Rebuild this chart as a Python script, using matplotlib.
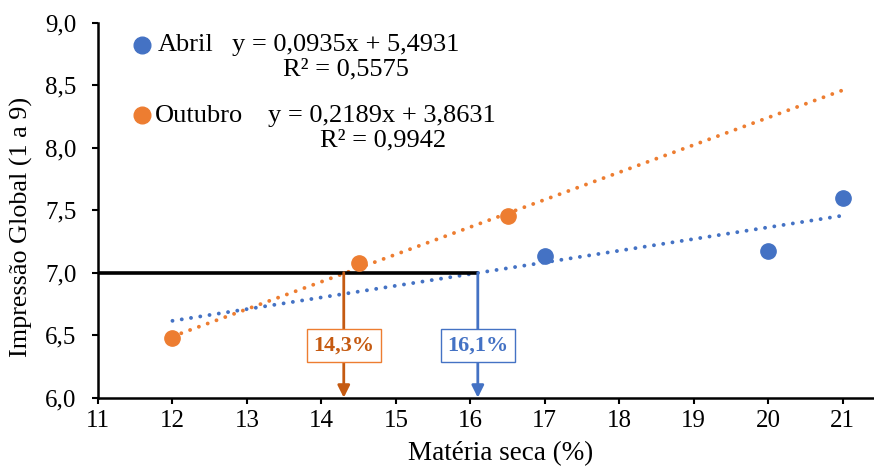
import matplotlib.pyplot as plt
import numpy as np

plt.rcParams['font.family'] = ['Liberation Serif', 'DejaVu Serif']

# data
abril_x = [17, 20, 21]
abril_y = [7.13, 7.17, 7.60]
outubro_x = [12, 14.5, 16.5]
outubro_y = [6.48, 7.08, 7.45]

# trendlines as printed on the chart
abril_fit = (0.0935, 5.4931)
outubro_fit = (0.2189, 3.8631)
trend_range = (12, 21)

target_y = 7.0
cut_abril = 16.1
cut_outubro = 14.3

blue = '#4472C4'
orange = '#ED7D31'
dark_orange = '#C55A11'

fig = plt.figure(figsize=(8.74, 4.69), dpi=100)
ax = fig.add_axes([98 / 874, 1 - 397.7 / 469, 776 / 874, 375 / 469])

xt = np.array(trend_range)
dots = dict(lw=2.8, linestyle=(0, (0.01, 2.4)), dash_capstyle='round')
ax.plot(xt, abril_fit[0] * xt + abril_fit[1], color=blue, **dots, zorder=2)
ax.plot(xt, outubro_fit[0] * xt + outubro_fit[1], color=orange, **dots, zorder=2)

ax.plot(abril_x, abril_y, 'o', color=blue, ms=11, zorder=4)
ax.plot(outubro_x, outubro_y, 'o', color=orange, ms=11, zorder=4)

# threshold line and arrows
ax.plot([11, cut_abril], [target_y, target_y], color='black', lw=2.6, zorder=3,
        solid_capstyle='butt')
for xc, col in [(cut_outubro, dark_orange), (cut_abril, blue)]:
    ax.annotate('', xy=(xc, 6.0), xytext=(xc, target_y),
                arrowprops=dict(arrowstyle='-|>', color=col, lw=2,
                                mutation_scale=18, shrinkA=0, shrinkB=0),
                zorder=3)

ax.text(cut_outubro, 6.42, '14,3%', color=dark_orange, fontsize=16, fontweight='bold',
        ha='center', va='center', zorder=5,
        bbox=dict(boxstyle='square,pad=0.3', fc='white', ec=orange, lw=1))
ax.text(cut_abril, 6.42, '16,1%', color=blue, fontsize=16, fontweight='bold',
        ha='center', va='center', zorder=5,
        bbox=dict(boxstyle='square,pad=0.3', fc='white', ec=blue, lw=1))

# equation legend
fs = 19
tr = ax.transAxes
ax.plot([0.0567], [0.9405], 'o', color=blue, ms=12, transform=tr, clip_on=False)
ax.text(0.0773, 0.9245, 'Abril', fontsize=fs, va='baseline', transform=tr)
ax.text(0.1727, 0.9245, 'y = 0,0935x + 5,4931', fontsize=fs, va='baseline', transform=tr)
ax.text(0.2384, 0.8605, 'R² = 0,5575', fontsize=fs, va='baseline', transform=tr)
ax.plot([0.0567], [0.754], 'o', color=orange, ms=12, transform=tr, clip_on=False)
ax.text(0.0735, 0.7359, 'Outubro', fontsize=fs, va='baseline', transform=tr)
ax.text(0.219, 0.7359, 'y = 0,2189x + 3,8631', fontsize=fs, va='baseline', transform=tr)
ax.text(0.286, 0.669, 'R² = 0,9942', fontsize=fs, va='baseline', transform=tr)

ax.set_xlim(11, 21.42)
ax.set_ylim(6.0, 9.0)
ax.set_xticks(range(11, 22))
yt = np.arange(6.0, 9.01, 0.5)
ax.set_yticks(yt)
ax.set_yticklabels([f'{v:.1f}'.replace('.', ',') for v in yt])
ax.tick_params(labelsize=18, width=1.5, length=4.5, color='black')
ax.tick_params(axis='x', pad=4)
ax.tick_params(axis='y', pad=11)

for s in ['top', 'right']:
    ax.spines[s].set_visible(False)
for s in ['left', 'bottom']:
    ax.spines[s].set_linewidth(1.8)

ax.set_xlabel('Matéria seca (%)', fontsize=19.5)
ax.set_ylabel('Impressão Global (1 a 9)', fontsize=18.8)
ax.xaxis.set_label_coords(0.519, -0.115)
ax.yaxis.set_label_coords(-0.0838, 0.455)

fig.savefig('out.png', dpi=100)
